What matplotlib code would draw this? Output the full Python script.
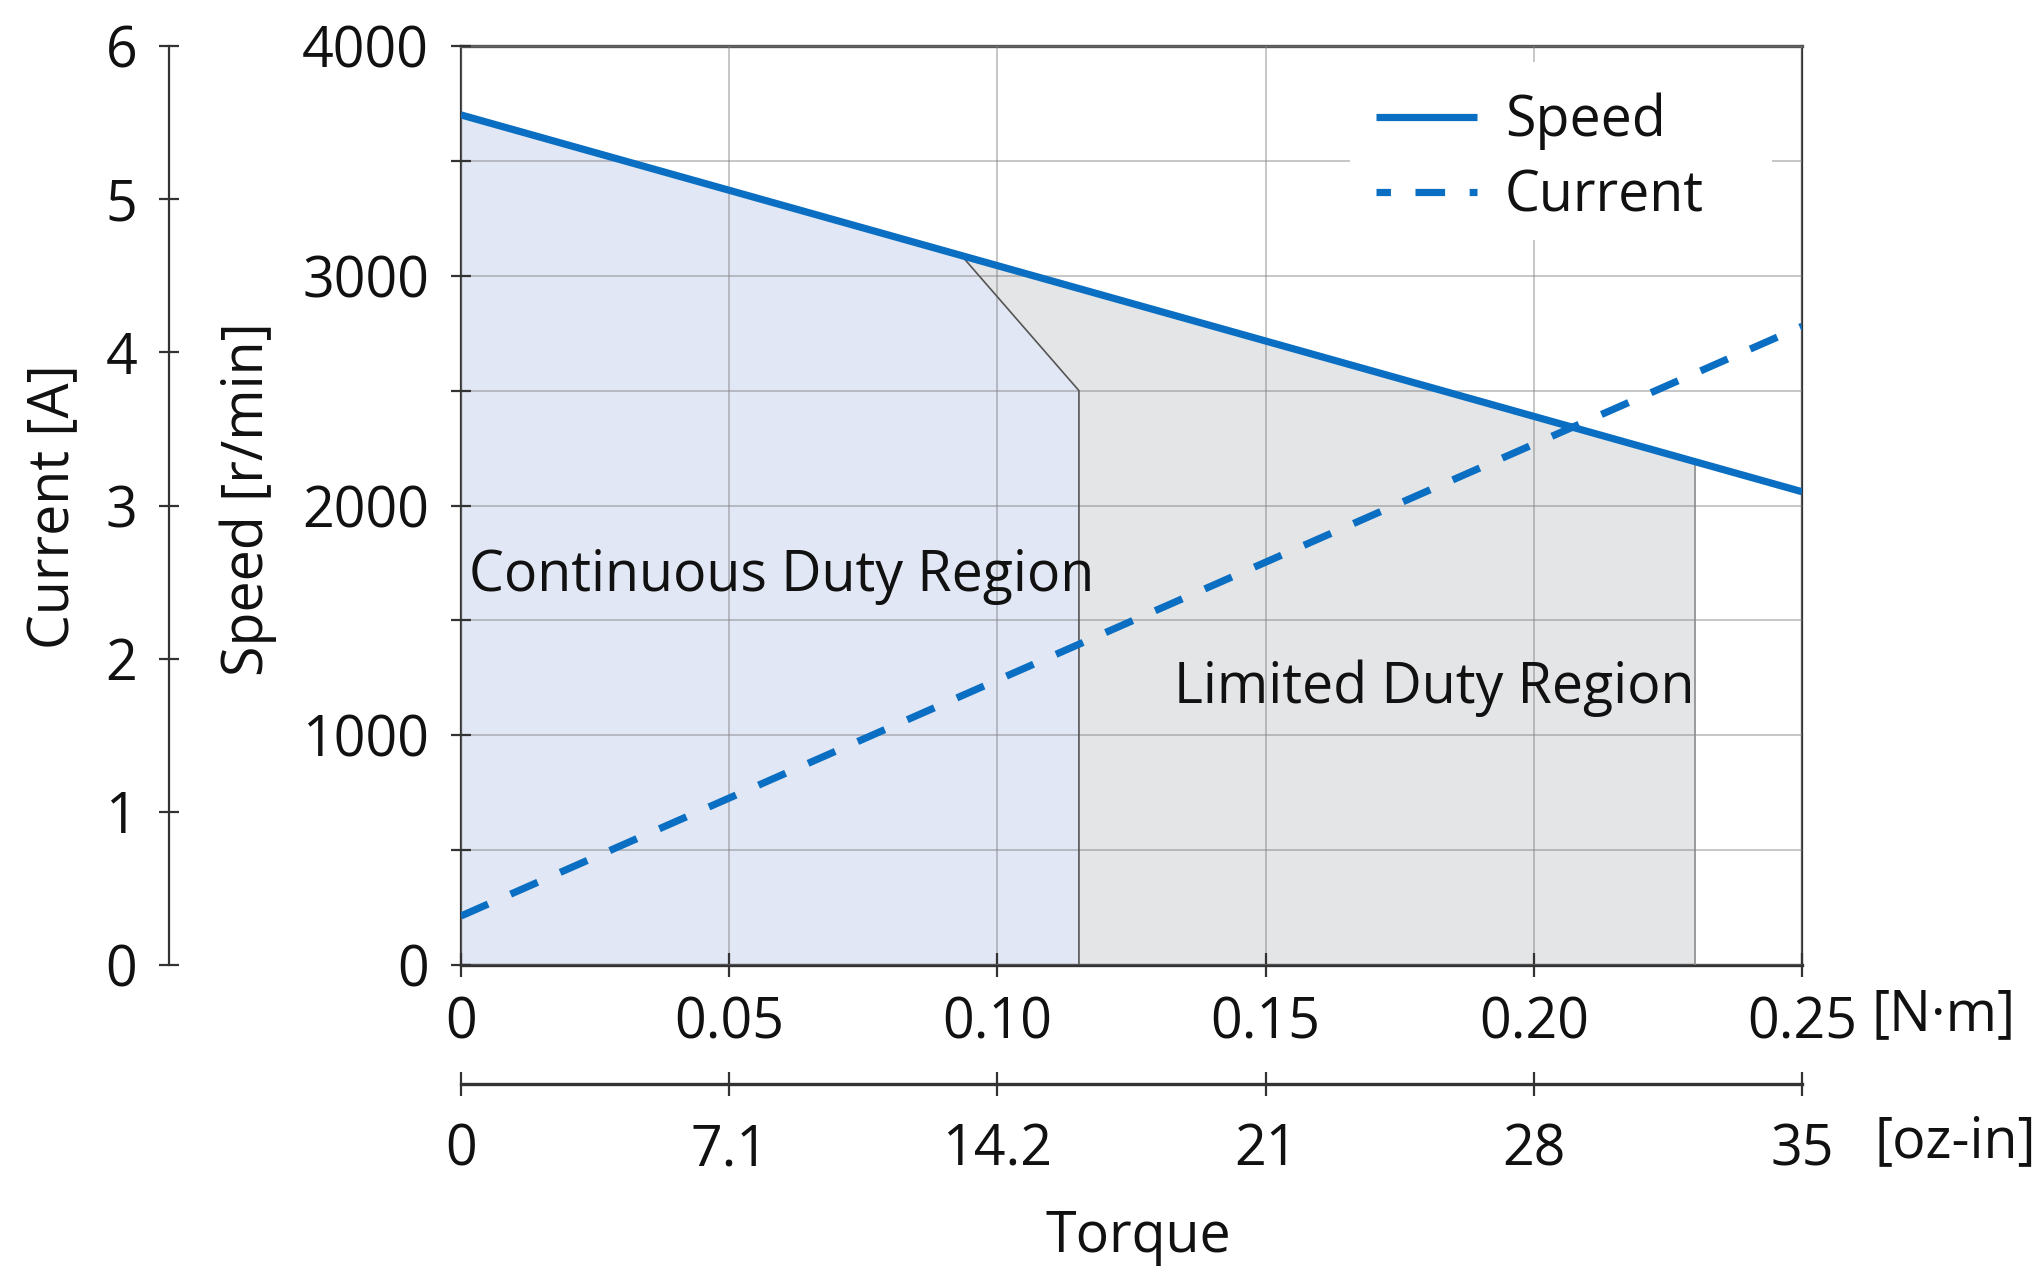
import matplotlib
matplotlib.use('Agg')
import matplotlib.pyplot as plt
from matplotlib.lines import Line2D
from matplotlib.patches import Rectangle

plt.rcParams['font.family'] = ['Open Sans', 'DejaVu Sans']

# ---- data ----
torque_nm = [0.0, 0.25]
speed_rpm = [3700, 2060]
current_a = [0.32, 4.17]

cont_torque = [0.0, 0.0, 0.0933, 0.1152, 0.1152]
cont_speed = [0, 3700, 3088, 2500, 0]

lim_torque = [0.0933, 0.23, 0.23, 0.1152, 0.1152]
lim_speed = [3088, 2191, 0, 0, 2500]

nm_ticks = [0.0, 0.05, 0.10, 0.15, 0.20, 0.25]
nm_labels = ['0', '0.05', '0.10', '0.15', '0.20', '0.25']
oz_labels = ['0', '7.1', '14.2', '21', '28', '35']
speed_ticks = list(range(0, 4001, 500))
speed_labels = [str(v) if v % 1000 == 0 else '' for v in speed_ticks]
current_ticks = [0, 1, 2, 3, 4, 5, 6]
current_labels = [str(v) for v in current_ticks]

BLUE = '#0a6fc2'
FS = 40
TXT = '#111111'
LW = 5.2
DASH = (4.1, 3.4)

W, H = 2043, 1284
fig = plt.figure(figsize=(W / 100, H / 100), dpi=100)
ax = fig.add_axes([461 / W, 1 - 965 / H, (1802 - 461) / W, 919 / H])

ax.set_xlim(0, 0.25)
ax.set_ylim(0, 4000)

# regions
ax.fill(cont_torque, cont_speed, color='#e1e7f4', lw=0, zorder=1)
ax.fill(lim_torque, lim_speed, color='#e4e5e7', lw=0, zorder=1)
ax.plot([lim_torque[0], lim_torque[4], lim_torque[3]],
        [lim_speed[0], lim_speed[4], lim_speed[3]],
        color='#555555', lw=1.2, zorder=2.6)
ax.plot([lim_torque[1], lim_torque[2]], [lim_speed[1], lim_speed[2]],
        color='#8a8a8a', lw=1.2, zorder=2.6)

# grid
ax.set_xticks(nm_ticks)
ax.set_xticklabels(nm_labels)
ax.set_yticks(speed_ticks)
ax.set_yticklabels(speed_labels)
ax.set_axisbelow(False)
ax.grid(True, color='#808080', alpha=0.45, lw=1.4, zorder=2.5)

# speed line
ax.plot(torque_nm, speed_rpm, color=BLUE, lw=LW, solid_capstyle='butt', zorder=3)

ax.tick_params(axis='y', direction='inout', length=14, width=1.6, pad=16, labelsize=FS,
               colors='#333333', labelcolor=TXT)
ax.tick_params(axis='x', direction='inout', length=17, width=1.6, pad=13.5, labelsize=FS,
               colors='#333333', labelcolor=TXT)
for s in ['left', 'right']:
    ax.spines[s].set_color('#333333')
    ax.spines[s].set_linewidth(1.6)
ax.spines['top'].set_color('#555555')
ax.spines['top'].set_linewidth(2.4)
ax.spines['bottom'].set_color('#333333')
ax.spines['bottom'].set_linewidth(2.4)

ax.text(0.0015, 1690, 'Continuous Duty Region', fontsize=FS, color=TXT, va='center', ha='left', zorder=4)
ax.text(0.133, 1205, 'Limited Duty Region', fontsize=FS, color=TXT, va='center', ha='left', zorder=4)

# current axis
ax2 = ax.twinx()
ax2.set_ylim(0, 6)
ax2.plot(torque_nm, current_a, color=BLUE, lw=LW, dashes=DASH,
         dash_capstyle='butt', zorder=3)
ax2.yaxis.tick_left()
ax2.yaxis.set_label_position('left')
ax2.spines['left'].set_position(('axes', (169 - 461) / (1802 - 461)))
for s in ['right', 'top', 'bottom']:
    ax2.spines[s].set_visible(False)
ax2.spines['left'].set_visible(True)
ax2.spines['left'].set_color('#333333')
ax2.spines['left'].set_linewidth(1.6)
ax2.set_yticks(current_ticks)
ax2.set_yticklabels(current_labels)
ax2.tick_params(axis='y', direction='inout', length=14, width=1.6, pad=16, labelsize=FS,
                colors='#333333', labelcolor=TXT)

# oz-in axis
ax3 = ax.twiny()
ax3.set_xlim(0, 0.25)
ax3.xaxis.tick_bottom()
ax3.spines['bottom'].set_position(('axes', -(1084 - 965) / 919))
for s in ['left', 'right', 'top']:
    ax3.spines[s].set_visible(False)
ax3.spines['bottom'].set_color('#333333')
ax3.spines['bottom'].set_linewidth(2.4)
ax3.set_xticks(nm_ticks)
ax3.set_xticklabels(oz_labels)
ax3.tick_params(axis='x', direction='inout', length=17, width=1.6, pad=19, labelsize=FS,
                colors='#333333', labelcolor=TXT)

# legend (white box behind, covering grid)
ax2.add_patch(Rectangle(((1350 - 461) / 1341, (965 - 240) / 919), 422 / 1341, 178 / 919,
                        transform=ax2.transAxes, facecolor='white', edgecolor='none',
                        zorder=4, clip_on=False))
handles = [Line2D([], [], color=BLUE, lw=LW, solid_capstyle='butt'),
           Line2D([], [], color=BLUE, lw=LW, linestyle=(2.1, DASH), dash_capstyle='butt')]
leg = ax2.legend(handles, ['Speed', 'Current'], loc='upper left',
                 bbox_to_anchor=(1376 / W, 1 - 93 / H), bbox_transform=fig.transFigure,
                 frameon=False, fontsize=FS, handlelength=1.82, handletextpad=0.5,
                 labelspacing=0.33, borderpad=0, borderaxespad=0)
leg.set_zorder(5)
for t in leg.get_texts():
    t.set_color(TXT)

# labels
fig.text(1944 / W, 1 - 1016 / H, '[N·m]', fontsize=FS, color=TXT, ha='center', va='center')
fig.text(1955 / W, 1 - 1143 / H, '[oz-in]', fontsize=FS, color=TXT, ha='center', va='center')
fig.text(1138 / W, 1 - 1238 / H, 'Torque', fontsize=FS, color=TXT, ha='center', va='center')
fig.text(55 / W, 1 - 507 / H, 'Current [A]', fontsize=FS, color=TXT, ha='center', va='center', rotation=90)
fig.text(248 / W, 1 - 499 / H, 'Speed [r/min]', fontsize=FS, color=TXT, ha='center', va='center', rotation=90)

fig.savefig('out.png', dpi=100, facecolor='white')
